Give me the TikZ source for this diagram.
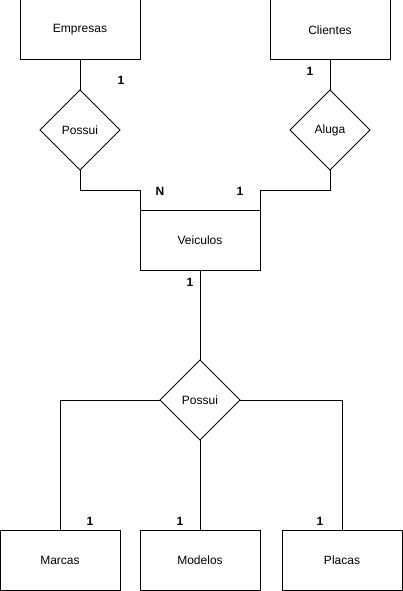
\documentclass[tikz,border=0pt]{standalone}
\usepackage{fontspec}
\setmainfont{Liberation Sans}
\usetikzlibrary{shapes.geometric,positioning}

\begin{document}
\begin{tikzpicture}[
    x=1pt, y=-1pt,
    entity/.style={rectangle, draw, line width=1pt, minimum width=120pt, minimum height=60pt, inner sep=0pt, outer sep=0pt, font=\fontsize{12}{14}\selectfont},
    relation/.style={diamond, draw, line width=1pt, minimum width=80pt, minimum height=80pt, inner sep=0pt, outer sep=0pt, font=\fontsize{12}{14}\selectfont},
    card/.style={inner sep=0pt, font=\fontsize{12}{14}\selectfont\bfseries},
    link/.style={line width=1pt}
]
    \useasboundingbox[fill=white] (0,0) rectangle (403,591);

    \node[entity] (empresas) at (80,30) {Empresas};
    \node[relation, below=30pt of empresas] (possuiA) {Possui};
    \node[entity] (clientes) at (330,30) {Clientes};
    \node[relation, below=30pt of clientes] (aluga) {Aluga};
    \node[entity] (veiculos) at (200,240) {Veiculos};
    \node[relation, below=90pt of veiculos] (possuiB) {Possui};
    \node[entity, below=90pt of possuiB] (modelos) {Modelos};
    \node[entity, left=20pt of modelos] (marcas) {Marcas};
    \node[entity, right=22pt of modelos] (placas) {Placas};

    % cardinalities
    \node[card] (cEmp) at (121,80) {1};
    \node[card] (cVeiN) at (160,191) {N};
    \node[card] (cVeiA) at (240,191) {1};
    \node[card] (cCli) at (310,71) {1};
    \node[card] (cVeiB) at (190,282) {1};
    \node[card] (cMar) at (90,521) {1};
    \node[card] (cMod) at (180,521) {1};
    \node[card] (cPla) at (320,521) {1};

    \foreach \from/\to in {empresas/possuiA, clientes/aluga, veiculos/possuiB, possuiB/modelos}
        \draw[link] (\from.south) -- (\to.north);
    \draw[link] (possuiA.south) -- ++(0,20) -| (veiculos.north west);
    \draw[link] (aluga.south) -- ++(0,20) -| (veiculos.north east);
    \draw[link] (possuiB.west) -| (marcas.north);
    \draw[link] (possuiB.east) -| (placas.north);
\end{tikzpicture}
\end{document}
